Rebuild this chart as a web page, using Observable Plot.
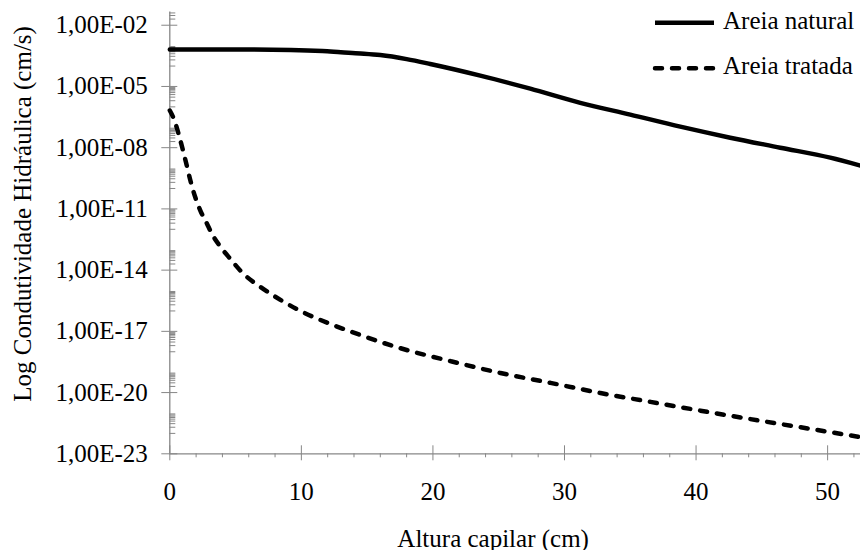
<!DOCTYPE html>
<html><head><meta charset="utf-8">
<script src="https://cdn.jsdelivr.net/npm/d3@7"></script>
<script src="https://cdn.jsdelivr.net/npm/@observablehq/plot@0.6"></script>
<style>
body{margin:0;background:#fff;}
#wrap{position:relative;width:860px;height:550px;font-family:"Liberation Serif","Times New Roman",serif;}
#wrap svg.legend{position:absolute;left:0;top:0;}
</style></head><body><div id="wrap"></div>
<script>
const seriesNames = ["Areia natural", "Areia tratada"];
const naturalX = [0, 5, 9.2, 11.6, 13, 14.5, 16, 18, 19.8, 23.6, 27.4, 31.2, 35, 38.8, 42.6, 46.4, 50.2, 52.5];
const naturalK = [6.46e-4, 6.46e-4, 6.17e-4, 5.5e-4, 4.79e-4, 4.17e-4, 3.47e-4, 2.19e-4, 1.26e-4, 3.39e-5, 7.76e-6, 1.58e-6, 4.17e-7, 1.07e-7, 3.09e-8, 1.0e-8, 3.24e-9, 1.32e-9];
const tratadaX = [0, 0.36, 0.66, 0.97, 1.27, 1.57, 1.95, 2.33, 2.79, 3.24, 3.85, 4.61, 5.6, 6.89, 8.41, 9.93, 12.21, 14.49, 17.52, 21.32, 25.13, 28.93, 32.73, 36.53, 40.33, 44.13, 47.92, 52.5];
const tratadaK = [6.6e-7, 2.1e-7, 4.9e-8, 8.9e-9, 1.5e-9, 2.4e-10, 3.5e-11, 8.1e-12, 2.1e-12, 5.4e-13, 1.4e-13, 3.5e-14, 6.6e-15, 1.5e-15, 3.5e-16, 1.0e-16, 2.3e-17, 6.6e-18, 1.5e-18, 3.5e-19, 9.1e-20, 3.0e-20, 9.5e-21, 3.5e-21, 1.3e-21, 5.0e-22, 2.0e-22, 6.6e-23];
const xMajorTicks = [0, 10, 20, 30, 40, 50];
const xMinorTicks = [2, 4, 6, 8, 12, 14, 16, 18, 22, 24, 26, 28, 32, 34, 36, 38, 42, 44, 46, 48, 52];
const yMajorTicks = [1e-23, 1e-20, 1e-17, 1e-14, 1e-11, 1e-8, 1e-5, 1e-2];
const yTickLabels = ["1,00E-23", "1,00E-20", "1,00E-17", "1,00E-14", "1,00E-11", "1,00E-08", "1,00E-05", "1,00E-02"];
const yMinorExponents = [-22, -20, -18, -16, -14, -12, -10, -8, -6, -4, -2];
const yMinorMantissas = [1, 2, 3, 4, 5, 6, 7, 8, 9];
const xDomain = [0, 52.5];
const yDomain = [1e-23, 4.45e-2];
const xTitle = "Altura capilar (cm)";
const yTitle = "Log Condutividade Hidráulica (cm/s)";

const natural = naturalX.map((x, i) => ({x, k: naturalK[i]}));
const tratada = tratadaX.map((x, i) => ({x, k: tratadaK[i]}));
const isMajor = v => yMajorTicks.some(t => Math.abs(Math.log10(t) - Math.log10(v)) < 1e-6);
const yMinorTicks = [];
for (const e of yMinorExponents) for (const m of yMinorMantissas) {
  const v = m * Math.pow(10, e);
  if (!isMajor(v) && v <= yDomain[1]) yMinorTicks.push(v);
}
const yLabel = d => {
  const i = yMajorTicks.findIndex(t => Math.abs(Math.log10(t) - Math.log10(d)) < 1e-6);
  return i >= 0 ? yTickLabels[i] : "";
};
const axisGray = "#878787";
const FONT = '"Liberation Serif", "Times New Roman", serif';
const FS = 25;

const plot = Plot.plot({
  width: 860, height: 550,
  marginLeft: 169.3, marginRight: 0, marginTop: 11.5, marginBottom: 96.7,
  style: {fontFamily: FONT, fontSize: FS + "px", background: "white", overflow: "visible", color: "black"},
  x: {domain: xDomain},
  y: {type: "log", domain: yDomain},
  marks: [
    Plot.ruleX([xDomain[0]], {stroke: axisGray, strokeWidth: 1.3}),
    Plot.ruleY([yDomain[0]], {stroke: axisGray, strokeWidth: 1.3}),
    Plot.axisX({ticks: xMinorTicks, tickSize: 4, tickFormat: () => "", stroke: axisGray, label: null}),
    Plot.axisX({ticks: xMajorTicks, tickSize: 15, dy: -8, tickFormat: () => "", stroke: axisGray, label: null}),
    Plot.axisX({ticks: xMajorTicks, tickSize: 0, tickPadding: 28, fill: "black", label: null, fontSize: FS}),
    Plot.axisY({ticks: yMinorTicks, tickSize: 6, dx: 6, tickFormat: () => "", stroke: axisGray, label: null}),
    Plot.axisY({ticks: yMajorTicks, tickSize: 16, dx: 8, tickFormat: () => "", stroke: axisGray, label: null}),
    Plot.axisY({ticks: yMajorTicks, tickSize: 0, tickPadding: 22, tickFormat: yLabel, fill: "black", label: null, fontSize: FS}),
    Plot.line(natural, {x: "x", y: "k", stroke: "black", strokeWidth: 4.5, curve: "monotone-x"}),
    Plot.line(tratada, {x: "x", y: "k", stroke: "black", strokeWidth: 4.5, curve: "monotone-x", strokeDasharray: "7,10", strokeLinecap: "round"}),
    Plot.text([xTitle], {text: d => d, frameAnchor: "bottom", textAnchor: "middle", dy: 92.7, dx: -22, lineAnchor: "bottom", fontSize: FS, fill: "black"}),
    Plot.text([yTitle], {text: d => d, frameAnchor: "left", textAnchor: "middle", rotate: -90, dx: -147.3, dy: -19, fontSize: FS, fill: "black"})
  ]
});
const wrap = document.getElementById("wrap");
wrap.appendChild(plot);

// legend overlay
const leg = d3.select(wrap).append("svg").attr("class", "legend")
  .attr("width", 860).attr("height", 100)
  .style("font-family", FONT).style("font-size", FS + "px");
const legendRows = [
  {name: seriesNames[0], dash: null, y: 22.7},
  {name: seriesNames[1], dash: "7,10", y: 68.3}
];
for (const r of legendRows) {
  const ln = leg.append("line").attr("x1", 655).attr("x2", 714).attr("y1", r.y).attr("y2", r.y)
    .attr("stroke", "black").attr("stroke-width", 4.5);
  if (r.dash) ln.attr("stroke-dasharray", r.dash).attr("stroke-linecap", "round");
  leg.append("text").attr("x", 723).attr("y", r.y + 6).attr("fill", "black").text(r.name);
}
</script></body></html>
